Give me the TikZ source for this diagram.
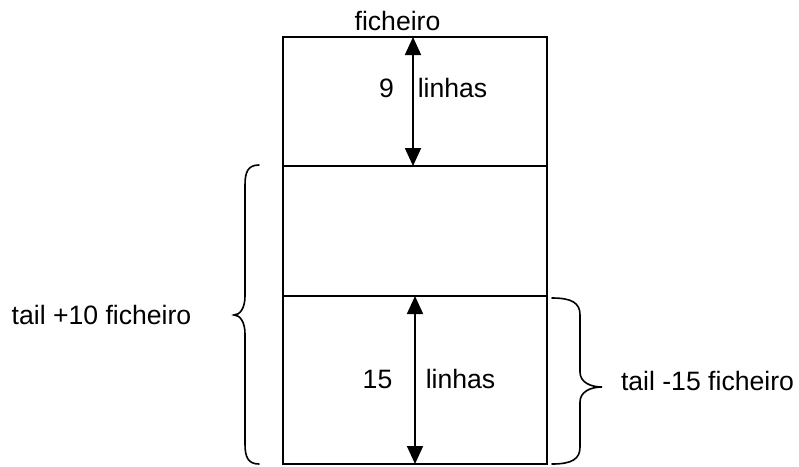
\documentclass[tikz,border=0pt]{standalone}
\usepackage{fontspec}
\setmainfont{Liberation Sans}
\usetikzlibrary{arrows.meta}
\begin{document}
\begin{tikzpicture}[x=1pt,y=-1pt,
  part/.style={draw,line width=2pt,minimum width=264pt,inner sep=0pt,outer sep=0pt,anchor=north west},
  lbl/.style={font=\fontsize{26.6}{30}\selectfont,inner sep=0pt},
  dim/.style={line width=1.8pt,{Triangle[length=18pt,width=16pt]}-{Triangle[length=18pt,width=16pt]}},
  bracepath/.style={line width=1.6pt,line cap=round}]
\useasboundingbox (0,0) rectangle (799,466);
\node[part,minimum height=129pt] (p1) at (283,37) {};
\node[part,minimum height=130pt] (p2) at (283,166) {};
\node[part,minimum height=168pt] (p3) at (283,296) {};
\draw[dim] ([xshift=-2pt]p1.north) -- ([xshift=-2pt]p1.south);
\draw[dim] (p3.north) -- (p3.south);
\node[lbl] (fic) at (397.5,21) {ficheiro};
\node[lbl] (n9) at (386.5,88) {9};
\node[lbl] (l9) at (452.5,88) {linhas};
\node[lbl] (n15) at (377.5,379) {15};
\node[lbl] (l15) at (460.5,379) {linhas};
\node[lbl] (tplus) at (101.5,315) {tail +10 ficheiro};
\node[lbl] (tminus) at (707.5,381) {tail -15 ficheiro};
\coordinate (lb1) at (259,165);
\coordinate (lb2) at (234,315);
\coordinate (lb3) at (259,464);
\draw[bracepath] (lb1) .. controls (248,165) and (245,172) .. (245,185) -- (245,296)
  .. controls (245,308) and (240,315) .. (lb2)
  .. controls (240,315) and (245,322) .. (245,334) -- (245,444)
  .. controls (245,457) and (248,464) .. (lb3);
\coordinate (rb1) at (552,298);
\coordinate (rb2) at (602,387);
\coordinate (rb3) at (552,464);
\draw[bracepath] (rb1) .. controls (572,298) and (580,303) .. (580,315) -- (580,372)
  .. controls (580,382) and (590,387) .. (rb2)
  .. controls (590,387) and (580,392) .. (580,402) -- (580,447)
  .. controls (580,459) and (572,464) .. (rb3);
\end{tikzpicture}
\end{document}
